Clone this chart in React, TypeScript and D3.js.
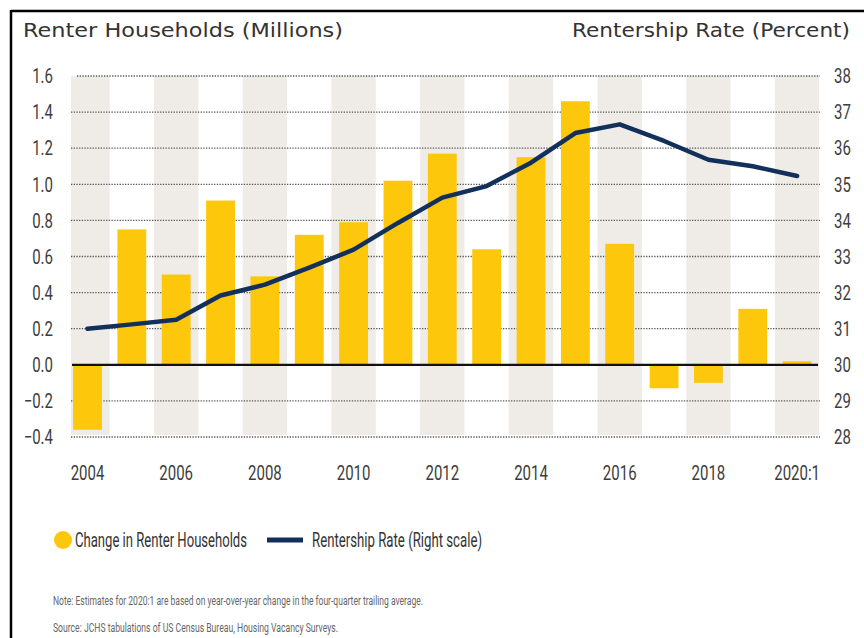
import React from "react";
import * as d3 from "d3";

const categories = ["2004","2005","2006","2007","2008","2009","2010","2011","2012","2013","2014","2015","2016","2017","2018","2019","2020:1"];
const tickLabels = ["2004","2006","2008","2010","2012","2014","2016","2018","2020:1"];
const changeInRenterHouseholds = [-0.36,0.75,0.50,0.91,0.49,0.72,0.79,1.02,1.17,0.64,1.15,1.46,0.67,-0.13,-0.10,0.31,0.02];
const rentershipRate = [31.0,31.12,31.25,31.92,32.22,32.69,33.19,33.93,34.63,34.95,35.6,36.42,36.66,36.2,35.68,35.5,35.23];
const leftTicks = [-0.4,-0.2,0,0.2,0.4,0.6,0.8,1.0,1.2,1.4,1.6];
const rightTicks = [28,29,30,31,32,33,34,35,36,37,38];

const W = 864, H = 638;
const COND = "Roboto,'Noto Sans',sans-serif";
const REG = "'DejaVu Sans',Roboto,sans-serif";
const YEL = "#FDC70C";
const NAVY = "#12305A";
const BAND = "#EFECE8";
const TICK = "#3d3d3d";

function CText(props: { x: number; y: number; sx?: number; anchor?: string; size: number; fill: string; family: string; children: React.ReactNode; len?: number }) {
  const { x, y, sx = 1, anchor = "start", size, fill, family, children, len } = props;
  return (
    <text
      transform={`translate(${x},${y}) scale(${sx},1)`}
      dy="0.36em"
      textAnchor={anchor}
      fontFamily={family}
      fontSize={size}
      fill={fill}
      {...(len ? { textLength: len / sx, lengthAdjust: "spacingAndGlyphs" } : {})}
    >
      {children}
    </text>
  );
}

export default function App() {
  const x = d3.scaleBand<string>().domain(categories).range([65.3, 819.3]).padding(0);
  const yL = d3.scaleLinear().domain([-0.4, 1.6]).range([437, 76]);
  const yR = d3.scaleLinear().domain([28, 38]).range([437, 76]);
  const barW = x.bandwidth() * 0.65;
  const cx = (c: string) => (x(c) as number) + x.bandwidth() / 2;
  const line = d3.line<number>().x((_, i) => cx(categories[i])).y(d => yR(d));

  return (
    <svg width={W} height={H} style={{ position: "absolute", left: 0, top: 0, background: "#fff" }}>
      <defs>
        <clipPath id="plotclip"><rect x={71} y={70} width={748} height={370} /></clipPath>
      </defs>
      <line x1={11} y1={11} x2={W} y2={11} stroke="#000" strokeWidth={2.5} />
      <line x1={11} y1={10} x2={11} y2={H} stroke="#000" strokeWidth={2.5} />

      <CText x={23} y={30} size={19.5} fill="#333" family={REG} len={320}>Renter Households (Millions)</CText>
      <CText x={572} y={30} size={19.5} fill="#333" family={REG} len={278}>Rentership Rate (Percent)</CText>

      <g clipPath="url(#plotclip)">
        {categories.map((c, i) => i % 2 === 0 ? (
          <rect key={c} x={x(c)} y={76} width={x.bandwidth()} height={359} fill={BAND} />
        ) : null)}
      </g>

      {leftTicks.filter(t => t !== 0).map(t => (
        <line key={t} x1={t === 1.6 ? 77 : 71} x2={820} y1={yL(t)} y2={yL(t)} stroke="#555" strokeWidth={1.3} strokeDasharray="1.3,1.4" />
      ))}

      {categories.map((c, i) => {
        const v = changeInRenterHouseholds[i];
        return (
          <rect key={c} x={cx(c) - barW / 2} y={Math.min(yL(v), yL(0))} width={barW} height={Math.abs(yL(v) - yL(0))} fill={YEL} />
        );
      })}

      <line x1={72} x2={818} y1={yL(0)} y2={yL(0)} stroke="#111" strokeWidth={2.2} />

      <path d={line(rentershipRate) || ""} fill="none" stroke={NAVY} strokeWidth={4.5} strokeLinejoin="round" strokeLinecap="round" />

      {leftTicks.map(t => (
        <CText key={t} x={53} y={yL(t)} sx={0.75} anchor="end" size={20} fill={TICK} family={COND}>{d3.format(".1f")(t)}</CText>
      ))}
      {rightTicks.map(t => (
        <CText key={t} x={834} y={yR(t)} sx={0.75} anchor="start" size={20} fill={TICK} family={COND}>{t}</CText>
      ))}
      {tickLabels.map(t => (
        <CText key={t} x={cx(t)} y={473} sx={0.75} anchor="middle" size={20} fill={TICK} family={COND}>{t}</CText>
      ))}

      <circle cx={63} cy={540} r={9} fill={YEL} />
      <CText x={75} y={540} sx={0.66} size={20} fill="#333" family={COND} len={172}>Change in Renter Households</CText>
      <line x1={267} x2={303} y1={540} y2={540} stroke={NAVY} strokeWidth={5} />
      <CText x={312} y={540} sx={0.66} size={20} fill="#333" family={COND} len={170}>Rentership Rate (Right scale)</CText>

      <CText x={53} y={600} sx={0.65} size={13} fill="#666" family={COND} len={370}>Note: Estimates for 2020:1 are based on year-over-year change in the four-quarter trailing average.</CText>
      <CText x={53} y={627} sx={0.65} size={13} fill="#666" family={COND} len={285}>Source: JCHS tabulations of US Census Bureau, Housing Vacancy Surveys.</CText>
    </svg>
  );
}
